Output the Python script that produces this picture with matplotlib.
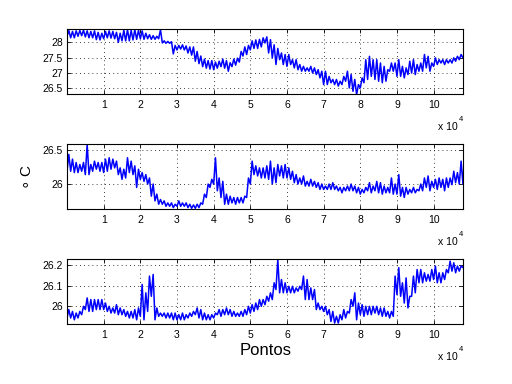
import numpy as np
import matplotlib
matplotlib.use("Agg")
import matplotlib.pyplot as plt

# Sample index step (points) between consecutive readings
step = 1000
n_total = 108100

# Panel 1 (top): low / high envelope read per 1000 points
p1_lo = [28.20, 28.15, 28.15, 28.20, 28.22, 28.18, 28.15, 28.15, 28.09, 28.08,
         28.12, 28.15, 28.14, 28.12, 28.00, 28.05, 28.05, 28.05, 28.08, 28.10,
         28.12, 28.10, 28.12, 28.10, 28.10, 28.12, 27.98, 27.97, 27.97, 27.62,
         27.75, 27.78, 27.75, 27.65, 27.58, 27.38, 27.30, 27.20, 27.15, 27.12,
         27.10, 27.15, 27.20, 27.15, 27.05, 27.20, 27.25, 27.35, 27.55, 27.60,
         27.75, 27.80, 27.80, 27.85, 27.98, 27.65, 27.49, 27.27, 27.43, 27.27,
         27.21, 27.27, 27.16, 27.10, 27.05, 27.05, 27.05, 26.99, 26.94, 26.83,
         26.61, 26.61, 26.67, 26.61, 26.56, 26.61, 26.72, 26.50, 26.39, 26.28,
         26.50, 26.67, 26.78, 26.88, 26.78, 26.72, 26.67, 26.72, 27.05, 27.05,
         26.88, 26.88, 26.83, 26.94, 26.99, 26.94, 27.05, 27.05, 27.16, 27.05,
         27.21, 27.27, 27.32, 27.27, 27.32, 27.32, 27.38, 27.43, 27.49]
p1_hi = [28.39, 28.36, 28.38, 28.39, 28.40, 28.38, 28.36, 28.38, 28.33, 28.30,
         28.36, 28.38, 28.36, 28.33, 28.30, 28.40, 28.42, 28.40, 28.42, 28.40,
         28.38, 28.30, 28.25, 28.22, 28.20, 28.42, 28.05, 28.03, 28.02, 27.90,
         27.90, 27.92, 27.88, 27.85, 27.85, 27.70, 27.55, 27.45, 27.40, 27.40,
         27.35, 27.38, 27.45, 27.40, 27.33, 27.45, 27.48, 27.70, 27.85, 27.90,
         28.05, 28.08, 28.10, 28.15, 28.18, 28.09, 27.92, 27.80, 27.65, 27.60,
         27.60, 27.43, 27.43, 27.27, 27.21, 27.16, 27.21, 27.16, 27.10, 27.05,
         27.05, 26.88, 26.78, 26.78, 26.72, 26.88, 27.05, 26.94, 26.78, 26.61,
         26.83, 27.43, 27.54, 27.43, 27.43, 27.32, 27.21, 27.10, 27.32, 27.32,
         27.43, 27.21, 27.16, 27.38, 27.43, 27.27, 27.32, 27.60, 27.54, 27.32,
         27.49, 27.43, 27.43, 27.43, 27.43, 27.49, 27.54, 27.60, 27.65]

# Panel 2 (middle)
p2_lo = [26.19, 26.19, 26.17, 26.17, 26.19, 26.14, 26.14, 26.19, 26.22, 26.19,
         26.17, 26.19, 26.22, 26.24, 26.14, 26.07, 26.09, 26.17, 26.14, 25.95,
         26.07, 26.04, 26.00, 25.82, 25.75, 25.70, 25.70, 25.67, 25.67, 25.65,
         25.67, 25.67, 25.67, 25.65, 25.64, 25.64, 25.65, 25.70, 25.80, 25.95,
         26.00, 25.90, 25.80, 25.70, 25.70, 25.72, 25.70, 25.72, 25.72, 25.80,
         26.00, 26.14, 26.12, 26.09, 26.09, 26.07, 26.00, 26.02, 26.12, 26.09,
         26.09, 26.07, 26.02, 26.00, 26.00, 25.97, 25.97, 25.97, 25.95, 25.92,
         25.92, 25.92, 25.92, 25.92, 25.90, 25.87, 25.90, 25.90, 25.90, 25.87,
         25.85, 25.87, 25.90, 25.87, 25.90, 25.87, 25.85, 25.87, 25.87, 25.85,
         25.85, 25.82, 25.80, 25.85, 25.87, 25.87, 25.90, 25.90, 25.95, 25.90,
         25.95, 25.92, 25.95, 25.90, 25.95, 25.99, 26.02, 26.00, 26.00]
p2_hi = [26.44, 26.37, 26.32, 26.29, 26.32, 26.59, 26.29, 26.34, 26.32, 26.32,
         26.37, 26.39, 26.37, 26.34, 26.24, 26.22, 26.39, 26.34, 26.27, 26.22,
         26.17, 26.14, 26.09, 26.00, 25.85, 25.77, 25.75, 25.72, 25.72, 25.70,
         25.75, 25.72, 25.72, 25.70, 25.69, 25.70, 25.72, 25.85, 26.00, 26.07,
         26.39, 26.09, 26.04, 25.85, 25.82, 25.80, 25.80, 25.80, 25.82, 26.09,
         26.34, 26.27, 26.24, 26.24, 26.27, 26.34, 26.24, 26.29, 26.27, 26.29,
         26.24, 26.19, 26.14, 26.09, 26.12, 26.04, 26.07, 26.04, 26.02, 26.00,
         25.97, 26.00, 26.02, 25.97, 25.95, 25.95, 25.97, 26.00, 25.97, 25.95,
         25.92, 25.95, 26.02, 25.97, 26.04, 26.02, 25.97, 25.95, 26.09, 26.00,
         26.14, 25.95, 25.95, 25.92, 25.95, 25.92, 26.00, 26.09, 26.12, 26.04,
         26.07, 26.09, 26.07, 26.09, 26.09, 26.19, 26.17, 26.34, 26.49]

# Panel 3 (bottom)
p3_lo = [25.943, 25.943, 25.934, 25.943, 25.959, 25.984, 25.975, 25.975, 25.984, 25.984,
         25.984, 25.975, 25.967, 25.967, 25.959, 25.959, 25.951, 25.943, 25.943, 25.934,
         25.951, 25.934, 25.975, 26.049, 25.934, 25.951, 25.951, 25.943, 25.943, 25.934,
         25.934, 25.934, 25.934, 25.943, 25.951, 25.959, 25.943, 25.934, 25.934, 25.934,
         25.943, 25.959, 25.951, 25.959, 25.959, 25.951, 25.951, 25.951, 25.951, 25.959,
         25.967, 25.975, 25.984, 26.000, 26.008, 26.025, 26.033, 26.082, 26.066, 26.066,
         26.066, 26.066, 26.066, 26.074, 26.082, 26.033, 26.033, 26.033, 25.984, 25.984,
         25.975, 25.959, 25.926, 25.918, 25.918, 25.934, 25.943, 25.967, 26.000, 25.934,
         25.959, 25.951, 25.959, 25.959, 25.967, 25.959, 25.951, 25.951, 25.943, 25.951,
         26.057, 26.049, 26.016, 25.992, 26.049, 26.066, 26.115, 26.115, 26.123, 26.123,
         26.131, 26.115, 26.115, 26.131, 26.164, 26.172, 26.164, 26.172, 26.189]
p3_hi = [25.984, 25.975, 25.967, 25.975, 26.000, 26.041, 26.033, 26.033, 26.033, 26.033,
         26.016, 26.000, 25.992, 26.008, 25.992, 25.984, 25.975, 25.975, 25.984, 25.992,
         26.107, 26.066, 26.148, 26.156, 25.992, 25.967, 25.967, 25.967, 25.967, 25.967,
         25.959, 25.967, 25.959, 25.967, 25.975, 25.992, 25.984, 25.967, 25.959, 25.959,
         25.967, 25.984, 25.984, 25.992, 25.984, 25.975, 25.967, 25.975, 25.984, 26.000,
         26.008, 26.016, 26.033, 26.033, 26.049, 26.066, 26.115, 26.230, 26.131, 26.115,
         26.098, 26.098, 26.090, 26.098, 26.148, 26.131, 26.090, 26.082, 26.016, 26.000,
         26.000, 25.984, 25.975, 25.951, 25.959, 25.984, 25.975, 26.033, 26.066, 26.016,
         26.008, 26.000, 26.000, 26.000, 26.000, 25.992, 25.992, 25.975, 25.975, 26.148,
         26.189, 26.115, 26.139, 26.049, 26.148, 26.180, 26.180, 26.164, 26.156, 26.180,
         26.197, 26.164, 26.164, 26.180, 26.221, 26.213, 26.197, 26.197, 26.205]

y_ticks = [[26.5, 27, 27.5, 28], [26, 26.5], [26, 26.1, 26.2]]
y_ticklabels = [["26.5", "27", "27.5", "28"], ["26", "26.5"], ["26", "26.1", "26.2"]]
y_lims = [(26.30, 28.43), (25.625, 26.59), (25.912, 26.23)]
x_ticks = [i * 10000 for i in range(1, 11)]
x_ticklabels = [str(i) for i in range(1, 11)]

plt.rcParams['font.family'] = ['Liberation Sans', 'DejaVu Sans']

fig = plt.figure(figsize=(5.12, 3.84), dpi=100)
fig.patch.set_facecolor('white')

W, H = 512.0, 384.0
left_px, right_px = 67.0, 463.3
panel_px = [(29.3, 94.0), (144.3, 209.3), (259.3, 324.3)]

series = [(p1_lo, p1_hi), (p2_lo, p2_hi), (p3_lo, p3_hi)]

axes = []
for i, ((top, bot), (lo, hi)) in enumerate(zip(panel_px, series)):
    ax = fig.add_axes([left_px / W, 1 - bot / H, (right_px - left_px) / W, (bot - top) / H])
    n = len(lo)
    k = np.arange(n)
    x = np.empty(2 * n)
    y = np.empty(2 * n)
    x[0::2] = k * step + 1
    x[1::2] = k * step + step / 2
    y[0::2] = lo
    y[1::2] = hi
    ax.plot(x, y, color='#0000ff', lw=1.1)
    ax.set_xlim(1, n_total)
    ax.set_ylim(*y_lims[i])
    ax.set_xticks(x_ticks)
    ax.set_xticklabels(x_ticklabels)
    ax.set_yticks(y_ticks[i])
    ax.set_yticklabels(y_ticklabels[i])
    ax.tick_params(direction='in', length=3, width=0.6, top=True, right=True,
                   labelsize=7.5, pad=3)
    ax.tick_params(axis='x', pad=4)
    ax.grid(True, color='black', linestyle=(0, (1, 4)), linewidth=0.6)
    for s in ax.spines.values():
        s.set_linewidth(0.8)
    ax.text(0.985, -0.51, 'x 10', transform=ax.transAxes, ha='right', va='center',
            fontsize=7.5)
    ax.text(0.995, -0.39, '4', transform=ax.transAxes, ha='center', va='center',
            fontsize=5.5)
    axes.append(ax)

axes[1].set_ylabel(r'$\circ$ C', fontsize=11, labelpad=6)
axes[2].set_xlabel('Pontos', fontsize=12, labelpad=2)

fig.savefig('out.png', dpi=100)
